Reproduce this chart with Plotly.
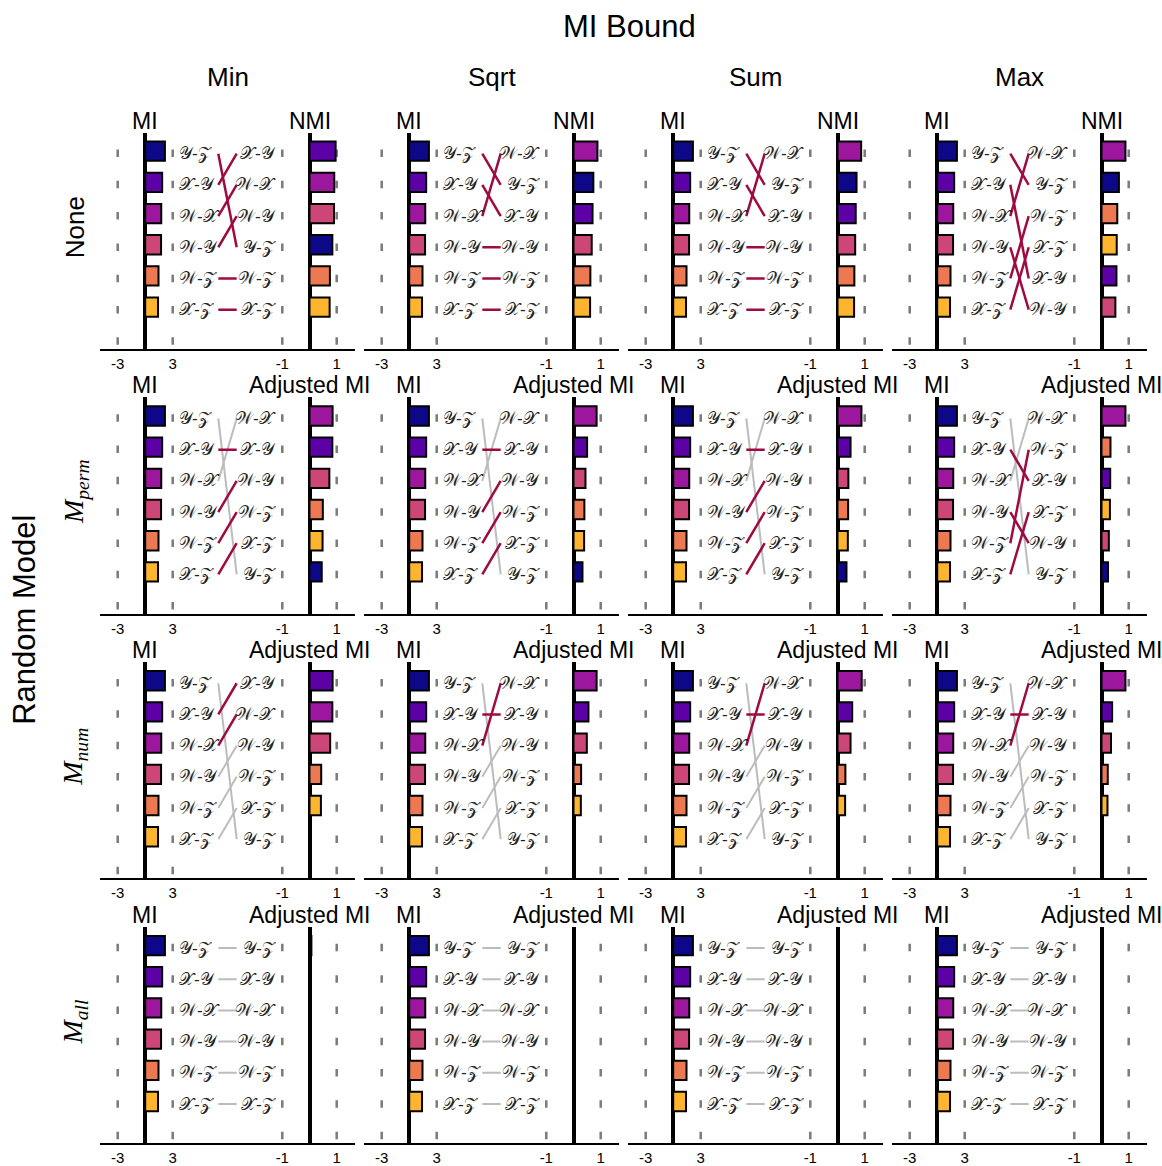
import plotly.graph_objects as go

# ---------------- data ----------------
CATEGORIES = ["Y-Z", "X-Y", "W-X", "W-Y", "W-Z", "X-Z"]
SCRIPT = {"W": "\U0001D4B2", "X": "\U0001D4B3", "Y": "\U0001D4B4", "Z": "\U0001D4B5"}
COLORS = ["#0d0887", "#5c01a6", "#9c179e", "#cc4778", "#ed7953", "#fdb42f"]
MI_VALUES = [2.15, 1.85, 1.75, 1.73, 1.45, 1.40]

BOUNDS = ["Min", "Sqrt", "Sum", "Max"]
RANDOM_MODELS = ["None", "perm", "num", "all"]
RIGHT_TITLES = ["NMI", "Adjusted MI", "Adjusted MI", "Adjusted MI"]

# right-hand metric, values in CATEGORIES order
NMI_NONE = {
    "Min":  [0.84, 0.96, 0.91, 0.90, 0.75, 0.74],
    "Sqrt": [0.73, 0.70, 0.88, 0.67, 0.62, 0.61],
    "Sum":  [0.70, 0.67, 0.87, 0.65, 0.62, 0.61],
    "Max":  [0.64, 0.55, 0.88, 0.51, 0.58, 0.56],
}
AMI_PERM = {
    "Min":  [0.45, 0.84, 0.85, 0.73, 0.49, 0.48],
    "Sqrt": [0.33, 0.50, 0.85, 0.44, 0.40, 0.39],
    "Sum":  [0.33, 0.48, 0.88, 0.40, 0.39, 0.38],
    "Max":  [0.24, 0.32, 0.88, 0.27, 0.33, 0.31],
}
AMI_NUM = {
    "Min":  [0.02, 0.85, 0.84, 0.76, 0.43, 0.42],
    "Sqrt": [0.01, 0.55, 0.85, 0.49, 0.28, 0.27],
    "Sum":  [0.01, 0.54, 0.89, 0.48, 0.29, 0.28],
    "Max":  [0.005, 0.39, 0.88, 0.35, 0.23, 0.22],
}
AMI_ALL = {
    "Min":  [0.07, 0.03, 0.025, 0.02, 0.015, 0.01],
    "Sqrt": [0.05, 0.03, 0.025, 0.02, 0.015, 0.01],
    "Sum":  [0.05, 0.03, 0.025, 0.02, 0.015, 0.01],
    "Max":  [0.05, 0.03, 0.025, 0.02, 0.015, 0.01],
}
RIGHT_VALUES = [NMI_NONE, AMI_PERM, AMI_NUM, AMI_ALL]

# 1 = highlighted (crimson) rank link, 0 = grey link
HIGHLIGHT = [
    [1, 1, 1, 1, 1, 1],
    [0, 1, 0, 1, 1, 1],
    [0, 1, 1, 0, 0, 0],
    [0, 0, 0, 0, 0, 0],
]

LEFT_TICKS = [-3, 3]
RIGHT_TICKS = [-1, 1]

# ---------------- geometry / style ----------------
W_PX, H_PX = 1162, 1166
COL_X0, COL_STEP, PANEL_W, SPLIT = 100, 264, 255, 150
LEFT_ZERO, LEFT_PXU = 45.2, 9.17
RIGHT_ZERO, RIGHT_PXU = 209.5, 27.2
ROW_TOP0, ROW_BOTTOM0, ROW_STEP = 133, 350, 265.7
ROW_CENTER0, ROW_PITCH = 151.7, 31.3
LINK_X_PX = (118.3, 136.7)
LINK_DY = 0.08
CRIMSON = "#9e0b41"
LINK_GREY = "#bcbcbc"
DASH_GREY = "#7a7a7a"
SANS = "Liberation Sans, Arial, sans-serif"
SERIF = "DejaVu Serif, Liberation Serif, serif"


def script_label(cat):
    a, b = cat.split("-")
    return SCRIPT[a] + "-" + SCRIPT[b]


def axname(kind, n):
    return f"{kind}axis" if n == 1 else f"{kind}axis{n}"


def axref(kind, n):
    return kind if n == 1 else f"{kind}{n}"


fig = go.Figure()
annotations = []
shapes = []
axes = {}

y_top_val = (ROW_TOP0 - ROW_CENTER0) / ROW_PITCH
y_bot_val = (ROW_BOTTOM0 - ROW_CENTER0) / ROW_PITCH
dash_start = (150 - ROW_CENTER0) / ROW_PITCH
left_range = [(0 - LEFT_ZERO) / LEFT_PXU, (SPLIT - LEFT_ZERO) / LEFT_PXU]
right_range = [(SPLIT - RIGHT_ZERO) / RIGHT_PXU, (PANEL_W - RIGHT_ZERO) / RIGHT_PXU]
link_x = [(p - LEFT_ZERO) / LEFT_PXU for p in LINK_X_PX]

panel = 0
for r, model in enumerate(RANDOM_MODELS):
    top_px = ROW_TOP0 + r * ROW_STEP
    bot_px = ROW_BOTTOM0 + r * ROW_STEP
    ydom = [(H_PX - bot_px) / H_PX, (H_PX - top_px) / H_PX]
    for c, bound in enumerate(BOUNDS):
        nL = 2 * panel + 1
        nR = nL + 1
        panel += 1
        px0 = COL_X0 + c * COL_STEP
        xdomL = [px0 / W_PX, (px0 + SPLIT) / W_PX]
        xdomR = [(px0 + SPLIT) / W_PX, (px0 + PANEL_W) / W_PX]

        for n, dom, rng, ticks in ((nL, xdomL, left_range, LEFT_TICKS),
                                   (nR, xdomR, right_range, RIGHT_TICKS)):
            axes[axname("x", n)] = dict(
                domain=dom, range=rng, anchor=axref("y", n),
                showgrid=False, zeroline=True, zerolinecolor="black", zerolinewidth=4,
                showline=True, linecolor="black", linewidth=2,
                tickvals=ticks, ticktext=[str(t) for t in ticks], ticks="",
                tickfont=dict(family=SANS, size=15, color="black"),
                fixedrange=True,
            )
            axes[axname("y", n)] = dict(
                domain=ydom, range=[y_bot_val, y_top_val], anchor=axref("x", n),
                visible=False, fixedrange=True,
            )
            for t in ticks:
                shapes.append(dict(
                    type="line", xref=axref("x", n), yref=axref("y", n),
                    x0=t, x1=t, y0=dash_start, y1=y_bot_val,
                    line=dict(color=DASH_GREY, width=2.5, dash="7.5px,23.8px"),
                    layer="below",
                ))

        vals = RIGHT_VALUES[r][bound]
        order = sorted(range(len(CATEGORIES)), key=lambda i: -vals[i])
        rank = [0] * len(CATEGORIES)
        for pos, i in enumerate(order):
            rank[i] = pos

        # rank links (grey first, highlighted on top)
        for want in (0, 1):
            for i in range(len(CATEGORIES)):
                if HIGHLIGHT[r][i] != want:
                    continue
                fig.add_trace(go.Scatter(
                    x=link_x, y=[i + LINK_DY, rank[i] + LINK_DY], mode="lines",
                    line=dict(color=CRIMSON if want else LINK_GREY, width=2.5 if want else 2),
                    xaxis=axref("x", nL), yaxis=axref("y", nL),
                    showlegend=False, hoverinfo="skip",
                ))

        fig.add_trace(go.Bar(
            x=MI_VALUES, y=list(range(len(CATEGORIES))), orientation="h",
            width=0.62, base=0,
            marker=dict(color=COLORS, line=dict(color="black", width=2)),
            xaxis=axref("x", nL), yaxis=axref("y", nL), showlegend=False,
        ))
        fig.add_trace(go.Bar(
            x=vals, y=rank, orientation="h", width=0.62, base=0,
            marker=dict(color=COLORS, line=dict(color="black", width=2)),
            xaxis=axref("x", nR), yaxis=axref("y", nR), showlegend=False,
        ))

        for i, cat in enumerate(CATEGORIES):
            annotations.append(dict(
                x=LEFT_TICKS[1], y=i, xref=axref("x", nL), yref=axref("y", nL),
                text=script_label(cat), showarrow=False, xanchor="left", yanchor="middle",
                xshift=4, yshift=-2, font=dict(family=SERIF, size=17, color="#222"),
            ))
            annotations.append(dict(
                x=RIGHT_TICKS[0], y=rank[i], xref=axref("x", nR), yref=axref("y", nR),
                text=script_label(cat), showarrow=False, xanchor="right", yanchor="middle",
                xshift=-4, yshift=-2, font=dict(family=SERIF, size=17, color="#222"),
            ))

        annotations.append(dict(
            x=0, y=1, xref=axref("x", nL), yref=axref("y", nL) + " domain",
            text="MI", showarrow=False, xanchor="center", yanchor="middle", yshift=12,
            font=dict(family=SANS, size=23, color="black"),
        ))
        annotations.append(dict(
            x=0, y=1, xref=axref("x", nR), yref=axref("y", nR) + " domain",
            text=RIGHT_TITLES[r], showarrow=False, xanchor="center", yanchor="middle", yshift=12,
            font=dict(family=SANS, size=23, color="black"),
        ))

# column titles
for c, bound in enumerate(BOUNDS):
    annotations.append(dict(
        x=(COL_X0 + c * COL_STEP + PANEL_W / 2) / W_PX, y=(H_PX - 77) / H_PX,
        xref="paper", yref="paper", text=bound, showarrow=False,
        xanchor="center", yanchor="middle",
        font=dict(family=SANS, size=26, color="black"),
    ))

# row labels
ROW_LABELS = ["None"] + [f"<i>M</i><sub><i>{m}</i></sub>" for m in RANDOM_MODELS[1:]]
for r, lab in enumerate(ROW_LABELS):
    cy = 228 + r * ROW_STEP
    annotations.append(dict(
        x=75 / W_PX, y=(H_PX - cy) / H_PX, xref="paper", yref="paper",
        text=lab, showarrow=False, textangle=-90, xanchor="center", yanchor="middle",
        font=dict(family=SANS if r == 0 else "Liberation Serif, DejaVu Serif, serif",
                  size=26 if r == 0 else 28, color="black"),
    ))

annotations.append(dict(
    x=25 / W_PX, y=(H_PX - 622) / H_PX, xref="paper", yref="paper",
    text="Random Model", showarrow=False, textangle=-90,
    xanchor="center", yanchor="middle",
    font=dict(family=SANS, size=31, color="black"),
))
annotations.append(dict(
    x=629 / W_PX, y=(H_PX - 27) / H_PX, xref="paper", yref="paper",
    text="MI Bound", showarrow=False, xanchor="center", yanchor="middle",
    font=dict(family=SANS, size=31, color="black"),
))

fig.update_layout(
    width=W_PX, height=H_PX, autosize=False,
    margin=dict(l=0, r=0, t=0, b=0, pad=0),
    paper_bgcolor="white", plot_bgcolor="white",
    showlegend=False, barmode="overlay",
    annotations=annotations, shapes=shapes,
    **axes,
)

fig.write_html(
    "out.html",
    config={"displayModeBar": False, "staticPlot": True},
    post_script="document.body.style.margin='0px';document.body.style.overflow='hidden';",
)
